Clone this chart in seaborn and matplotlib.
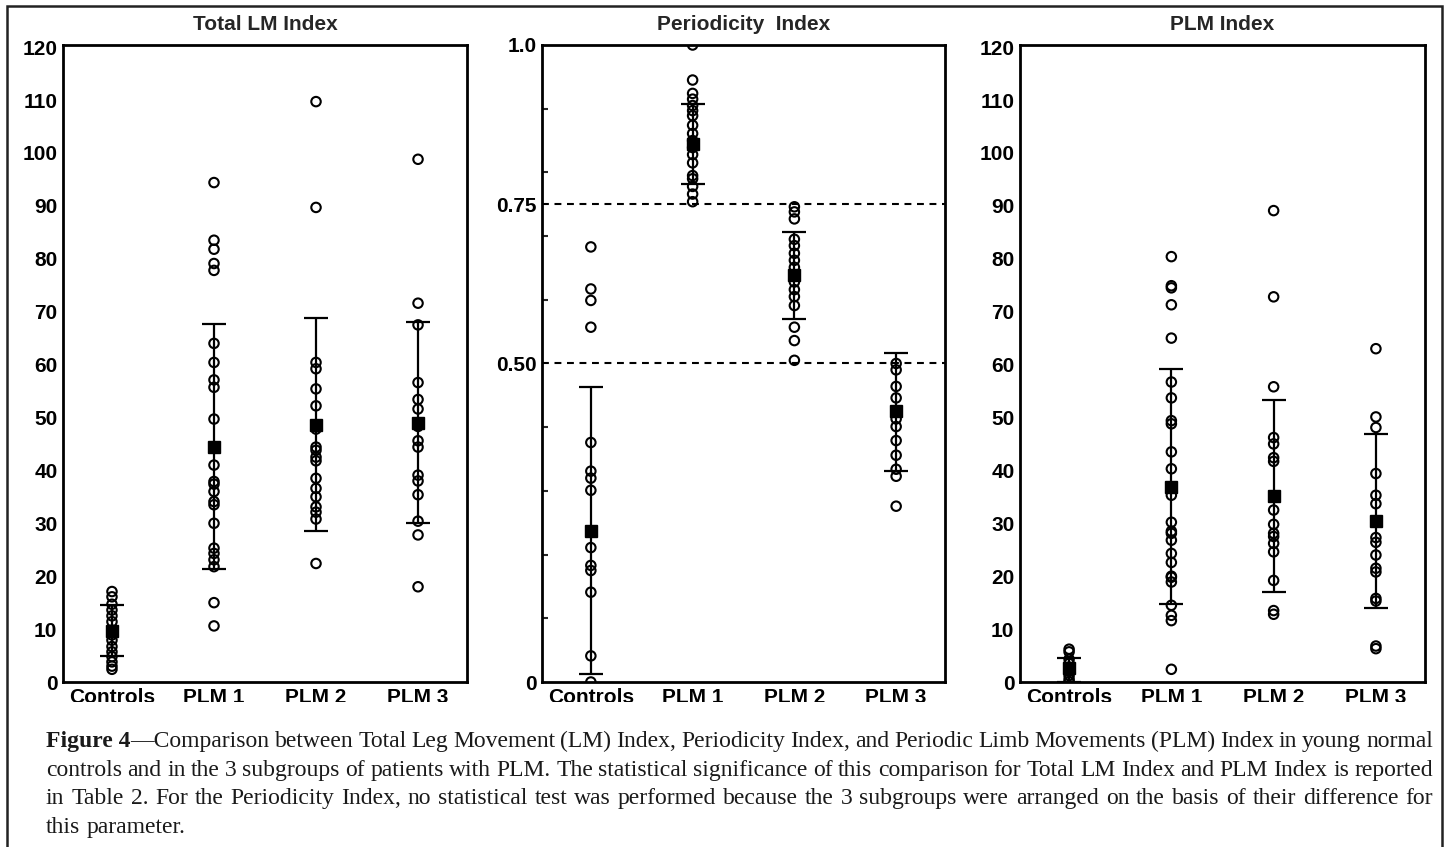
import matplotlib
matplotlib.use("Agg")
import numpy as np
import pandas as pd
import matplotlib.pyplot as plt
from matplotlib.patches import Rectangle
from matplotlib.ticker import FixedLocator
import seaborn as sns

# --- data ---
groups = ["Controls", "PLM 1", "PLM 2", "PLM 3"]

# Total LM Index
lm_controls = [17.1, 16.1, 14.7, 13.6, 12.5, 11.4, 9.8, 8.9, 7.9, 6.7, 5.7, 4.8, 3.8, 3.0, 2.4]
lm_plm1 = [94.4, 83.5, 81.8, 79.1, 77.8, 64.0, 60.4, 57.1, 55.7, 49.7, 41.0, 37.9, 37.4, 36.0,
           34.1, 33.5, 30.0, 25.3, 24.3, 23.1, 21.8, 15.0, 10.6]
lm_plm2 = [109.7, 89.7, 60.4, 59.2, 55.4, 52.2, 47.8, 44.4, 43.8, 42.5, 41.8, 38.5, 36.6, 35.0,
           33.1, 32.1, 30.8, 22.4]
lm_plm3 = [98.8, 71.6, 67.5, 56.6, 53.4, 51.6, 48.3, 45.6, 44.4, 39.1, 38.0, 35.4, 30.4, 27.8, 18.0]
lm_mean = [9.6, 44.5, 48.6, 48.9]
lm_lo = [4.9, 21.3, 28.5, 30.1]
lm_hi = [14.5, 67.7, 68.8, 68.0]

# Periodicity Index
pi_controls = [0.683, 0.617, 0.599, 0.557, 0.376, 0.331, 0.320, 0.301, 0.211, 0.183, 0.175,
               0.141, 0.041, 0.0]
pi_plm1 = [1.0, 0.945, 0.924, 0.915, 0.905, 0.897, 0.889, 0.874, 0.861, 0.850, 0.839, 0.828,
           0.815, 0.795, 0.790, 0.778, 0.766, 0.754]
pi_plm2 = [0.746, 0.738, 0.727, 0.695, 0.685, 0.673, 0.662, 0.651, 0.628, 0.616, 0.605, 0.591,
           0.557, 0.536, 0.505]
pi_plm3 = [0.500, 0.490, 0.464, 0.446, 0.413, 0.401, 0.379, 0.356, 0.334, 0.323, 0.276]
pi_mean = [0.237, 0.844, 0.639, 0.425]
pi_lo = [0.012, 0.782, 0.570, 0.332]
pi_hi = [0.463, 0.907, 0.707, 0.517]
pi_cutoffs = [0.75, 0.50]

# PLM Index
plm_controls = [6.2, 5.7, 4.3, 3.5, 2.8, 2.0, 1.2, 0.5, 0.0]
plm_plm1 = [80.4, 74.9, 74.5, 71.3, 65.0, 56.7, 53.7, 49.4, 48.8, 43.5, 40.3, 35.3, 30.2, 28.5,
            28.1, 26.8, 24.3, 22.6, 20.0, 19.8, 18.9, 14.5, 12.6, 11.6, 2.4]
plm_plm2 = [89.1, 72.8, 55.8, 46.2, 45.0, 42.4, 41.7, 32.5, 29.8, 28.1, 27.5, 26.2, 24.6, 19.2,
            13.5, 12.8]
plm_plm3 = [63.0, 50.1, 48.1, 39.4, 35.3, 33.7, 27.3, 26.4, 24.0, 21.5, 20.8, 15.8, 15.3, 6.8, 6.3]
plm_mean = [2.6, 36.8, 35.2, 30.4]
plm_lo = [0.0, 14.7, 17.0, 13.9]
plm_hi = [4.5, 59.1, 53.3, 46.9]

titles = ["Total LM Index", "Periodicity  Index", "PLM Index"]

caption = [
    [[("Figure 4", "bold"), ("\u2014Comparison", "normal")], "between", "Total", "Leg", "Movement",
     "(LM)", "Index,", "Periodicity", "Index,", "and", "Periodic", "Limb", "Movements", "(PLM)",
     "Index", "in", "young", "normal"],
    "controls and in the 3 subgroups of patients with PLM. The statistical significance of this "
    "comparison for Total LM Index and PLM Index is reported".split(),
    "in Table 2. For the Periodicity Index, no statistical test was performed because the 3 "
    "subgroups were arranged on the basis of their difference for".split(),
    "this parameter.".split(),
]

sns.set_theme(style="white")
plt.rcParams["font.family"] = ["Liberation Sans", "DejaVu Sans"]

W, H = 1448, 847
fig = plt.figure(figsize=(W / 100, H / 100), dpi=100)


def long_df(values):
    rows = []
    for g, vals in zip(groups, values):
        rows += [(g, v) for v in vals]
    return pd.DataFrame(rows, columns=["group", "value"])


def draw_panel(ax, values, mean, lo, hi, title):
    df = long_df(values)
    sns.stripplot(data=df, x="group", y="value", order=groups, jitter=False, ax=ax,
                  color="black", size=6.8, linewidth=1.5, edgecolor="black", zorder=3)
    for coll in ax.collections:
        coll.set_facecolor("none")
        coll.set_edgecolor("black")
    mean = np.array(mean)
    yerr = [mean - np.array(lo), np.array(hi) - mean]
    ax.errorbar(np.arange(len(groups)), mean, yerr=yerr, fmt="s", ms=9, color="black",
                ecolor="black", elinewidth=1.6, capsize=8.6, capthick=1.6, zorder=4)
    ax.set_xlim(-0.48, 3.48)
    ax.set_xlabel("")
    ax.set_ylabel("")
    ax.set_title(title, fontsize=15, fontweight="bold", pad=11)
    for s in ax.spines.values():
        s.set_visible(True)
        s.set_color("black")
        s.set_linewidth(2)
    ax.tick_params(direction="in", length=4, width=1.5, colors="black", labelsize=15)
    ax.tick_params(axis="x", pad=4)
    ax.tick_params(axis="y", pad=4)
    for lab in ax.get_xticklabels() + ax.get_yticklabels():
        lab.set_fontweight("bold")


bottom = 1 - 682 / H
height = (682 - 45) / H
ax1 = fig.add_axes([63 / W, bottom, 404 / W, height])
ax2 = fig.add_axes([542 / W, bottom, 403 / W, height])
ax3 = fig.add_axes([1020 / W, bottom, 405 / W, height])

# Total LM Index
ax1.set_ylim(0, 120.4)
ax1.set_yticks(np.arange(0, 121, 10))
draw_panel(ax1, [lm_controls, lm_plm1, lm_plm2, lm_plm3], lm_mean, lm_lo, lm_hi, titles[0])

# Periodicity Index
ax2.set_ylim(0, 1.0)
ax2.set_yticks([0, 0.5, 0.75, 1.0])
ax2.set_yticklabels(["0", "0.50", "0.75", "1.0"])
ax2.yaxis.set_minor_locator(FixedLocator([0.1, 0.2, 0.3, 0.4, 0.6, 0.7, 0.8, 0.9]))
for c in pi_cutoffs:
    ax2.axhline(c, color="black", lw=1.5, ls=(0, (3.3, 2.7)), zorder=2)
draw_panel(ax2, [pi_controls, pi_plm1, pi_plm2, pi_plm3], pi_mean, pi_lo, pi_hi, titles[1])
ax2.tick_params(axis="y", which="minor", direction="in", length=4, width=1.5, left=True)

# PLM Index
ax3.set_ylim(0, 120.4)
ax3.set_yticks(np.arange(0, 121, 10))
draw_panel(ax3, [plm_controls, plm_plm1, plm_plm2, plm_plm3], plm_mean, plm_lo, plm_hi, titles[2])

# scan cut the bottom of the category labels
fig.add_artist(Rectangle((12 / W, 1 - 722 / H), 1425 / W, 20 / H, transform=fig.transFigure,
                         facecolor="white", edgecolor="none", zorder=5))

# outer frame
fig.add_artist(Rectangle((7 / W, -0.02), 1435 / W, 1.02 - 6 / H, transform=fig.transFigure,
                         facecolor="none", edgecolor="#222222", lw=1.8, zorder=6))

# caption, justified like the journal layout
renderer = fig.canvas.get_renderer()
x0, x1 = 46, 1433
baselines = [747, 776, 804, 833]
cap_size = 17
for i, line in enumerate(caption):
    tokens = []
    for tok in line:
        pieces = tok if isinstance(tok, list) else [(tok, "normal")]
        arts = []
        for txt, wt in pieces:
            t = fig.text(0, 1 - baselines[i] / H, txt, fontsize=cap_size, fontweight=wt,
                         family=["Liberation Serif", "DejaVu Serif"], va="baseline",
                         ha="left", color="#1a1a1a")
            arts.append(t)
        tokens.append(arts)
    widths = [[a.get_window_extent(renderer).width for a in arts] for arts in tokens]
    total = sum(sum(w) for w in widths)
    if i < len(caption) - 1:
        gap = (x1 - x0 - total) / (len(tokens) - 1)
    else:
        gap = cap_size * 0.25 * 100 / 72
    x = x0
    for arts, ws in zip(tokens, widths):
        for a, w in zip(arts, ws):
            a.set_x(x / W)
            x += w
        x += gap

fig.savefig("out.png", dpi=100)
